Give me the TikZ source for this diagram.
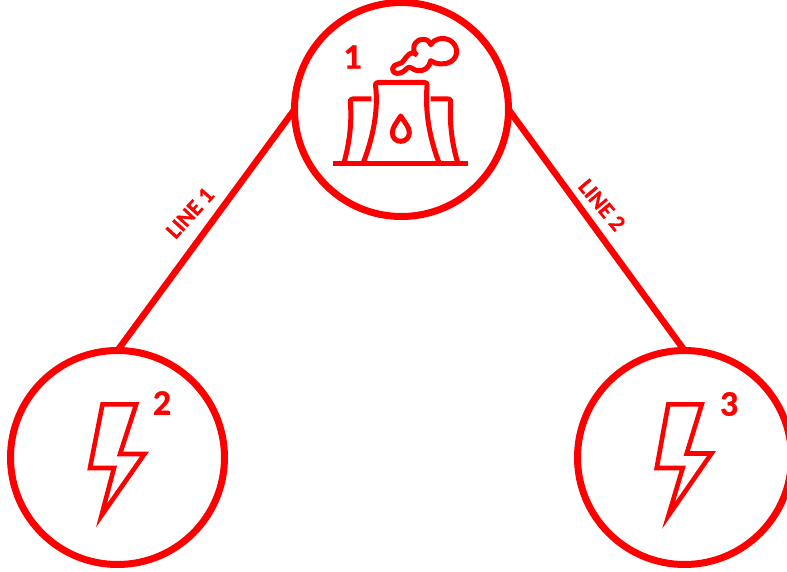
\documentclass[tikz,border=0pt]{standalone}
\usepackage{fontspec}
\setmainfont{Carlito}
\newfontfamily\heavyfont[FakeBold=0.7]{Carlito Bold}
\definecolor{redmain}{RGB}{255,0,0}
\tikzset{
  ring/.style={draw=redmain,line width=7pt,circle,minimum size=214pt,inner sep=0pt,outer sep=0pt},
  link/.style={draw=redmain,line width=6.5pt},
  numlabel/.style={text=redmain,font=\heavyfont\fontsize{36}{36}\selectfont,inner sep=0pt},
  linelabel/.style={text=redmain,font=\heavyfont\fontsize{23}{23}\selectfont,inner sep=0pt},
  bolt/.style={draw=redmain,line width=4.6pt,miter limit=10},
  plant/.style={draw=redmain,line width=5pt,line join=round}
}
\begin{document}
\begin{tikzpicture}[x=1pt,y=-1pt]
\useasboundingbox (0,0) rectangle (787,572);
\node[ring] (c1) at (401.5,109.5) {};
\node[ring] (c2) at (117.5,457.5) {};
\node[ring] (c3) at (684.5,457.5) {};
\draw[link] (c1.180) -- (c2.90);
\draw[link] (c1.0) -- (c3.90);
\node[linelabel,rotate=48] (l1) at (190,213) {LINE 1};
\node[linelabel,rotate=-50] (l2) at (602,205) {LINE 2};
\node[numlabel] (n1) at (352.5,57) {1};
\node[numlabel] (n2) at (162,403) {2};
\node[numlabel] (n3) at (729,404) {3};
% bolts
\draw[bolt] (102.5,404.3) -- (136.2,404.3) -- (120,454) -- (144.5,454) -- (101.5,515.5) -- (114,468) -- (90,468) -- cycle;
\draw[bolt] (668.3,404.3) -- (701.8,404.3) -- (686.7,453.5) -- (711.5,453.5) -- (668.5,515.5) -- (682.7,468) -- (656.7,468) -- cycle;
% plant
\begin{scope}[shift={(330,30)},x=0.3333pt,y=-0.3333pt]
\draw[plant,line width=5pt] (8,400) -- (415,400);
\draw[plant] (100,398) .. controls (130,320) and (145,240) .. (137,170) .. controls (136,160) and (138,157) .. (146,157) -- (282,157) .. controls (290,157) and (292,160) .. (291,170) .. controls (285,240) and (297,320) .. (327,398);
\draw[plant] (124,207) -- (68,207) .. controls (62,207) and (60,210) .. (61,218) .. controls (66,280) and (58,340) .. (42,398);
\draw[plant] (302,207) -- (355,207) .. controls (361,207) and (363,210) .. (362,218) .. controls (358,280) and (366,340) .. (383,398);
\draw[plant] (212,258) .. controls (225,278) and (238,292) .. (238,308) .. controls (238,324) and (226,334) .. (212,334) .. controls (198,334) and (187,324) .. (187,308) .. controls (187,292) and (200,278) .. (212,258) -- cycle;
\draw[plant] (205,102) .. controls (222,100) and (222,84) .. (238,72) .. controls (243,68) and (250,68) .. (254,70) .. controls (244,45) and (262,26) .. (280,28) .. controls (292,28) and (300,36) .. (302,44) .. controls (312,26) and (340,20) .. (358,30) .. controls (384,44) and (388,78) .. (364,94) .. controls (344,106) and (318,104) .. (302,92) .. controls (300,112) and (280,126) .. (262,122) .. controls (248,120) and (240,106) .. (232,114) .. controls (224,122) and (214,132) .. (200,130) .. controls (180,126) and (186,104) .. (205,102) -- cycle;
\draw[plant] (254,70) -- (262,76);
\end{scope}
\end{tikzpicture}
\end{document}
